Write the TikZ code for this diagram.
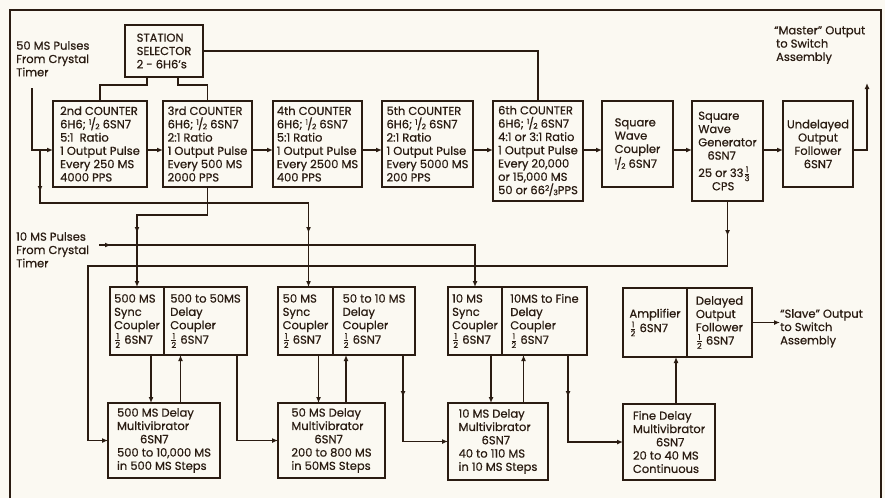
\documentclass[tikz,border=0pt]{standalone}
\usepackage{amsmath}
\usepackage{fontspec}
\setmainfont{Poppins}[FakeBold=0.6]
\usepackage{xcolor}
\usetikzlibrary{arrows.meta, positioning, calc, decorations.markings}
\definecolor{INK}{HTML}{2A1C12}
\definecolor{PAPER}{HTML}{FBF9F2}
\newcommand{\slfrac}[2]{\raisebox{.55ex}{\fontsize{7.5}{7.5}\selectfont#1}\kern-.06em/\kern-.06em\raisebox{-.15ex}{\fontsize{7.5}{7.5}\selectfont#2}}
\newcommand{\vfrac}[2]{$\frac{\text{#1}}{\text{#2}}$}
\tikzset{
  blk/.style={
    rectangle, draw=INK, line width=1.8pt, fill=PAPER,
    inner sep=2pt, outer sep=0pt, anchor=north west,
    align=left, text=INK, font=\fontsize{11.5}{13.3}\selectfont},
  lbl/.style={align=left, text=INK, inner sep=0pt, anchor=north west,
    font=\fontsize{11.5}{13.3}\selectfont},
  wire/.style={line width=1.5pt, draw=INK},
  arr/.style={wire, -{Latex[length=6pt,width=5pt]}},
  midarr/.style={postaction={decorate, decoration={markings,
    mark=at position #1 with {\arrow{Latex[length=6pt,width=5pt]}}}}},
}

\begin{document}
\begin{tikzpicture}[x=1pt, y=-1pt]

  \fill[PAPER, use as bounding box] (0,0) rectangle (885,498);
  \draw[INK, line width=2.5pt] (10,498) -- (10,10) -- (881,10) -- (881,498);

  \node[blk, minimum width=78pt, minimum height=52pt] (sel) at (125,25)
    {STATION\\SELECTOR\\2 - 6H6's};

  \node[blk, minimum width=94pt, minimum height=86pt] (c2) at (53,101)
    {2nd COUNTER\\6H6; \slfrac12 6SN7\\5:1 \ Ratio\\1 Output Pulse\\Every 250 MS\\4000 PPS};
  \node[blk, minimum width=89pt, minimum height=86pt, right=16pt of c2.north east, anchor=north west] (c3)
    {3rd COUNTER\\6H6; \slfrac12 6SN7\\2:1 Ratio\\1 Output Pulse\\Every 500 MS\\2000 PPS};
  \node[blk, minimum width=89pt, minimum height=86pt, right=21pt of c3.north east, anchor=north west] (c4)
    {4th COUNTER\\6H6; \slfrac12 6SN7\\5:1 Ratio\\1 Output Pulse\\Every 2500 MS\\400 PPS};
  \node[blk, minimum width=91pt, minimum height=86pt, right=20pt of c4.north east, anchor=north west] (c5)
    {5th COUNTER\\6H6; \slfrac12 6SN7\\2:1 Ratio\\1 Output Pulse\\Every 5000 MS\\200 PPS};
  \node[blk, minimum width=90pt, minimum height=100pt, right=20pt of c5.north east, anchor=north west] (c6)
    {6th COUNTER\\6H6; \slfrac12 6SN7\\4:1 or 3:1 Ratio\\1 Output Pulse\\Every 20,000\\or 15,000 MS\\50 or 66\slfrac23PPS};
  \node[blk, minimum width=71pt, minimum height=86pt, right=19pt of c6.north east, anchor=north west] (swc)
    {Square\\Wave\\Coupler\\\slfrac12 6SN7};
  \node[blk, minimum width=71pt, minimum height=100pt, right=19pt of swc.north east, anchor=north west] (swg)
    {Square\\Wave\\Generator\\\hspace{.8em}6SN7\\[4pt]25 or 33\vfrac13\\\hspace{1.2em}CPS};
  \node[blk, minimum width=70pt, minimum height=86pt, align=center, right=20pt of swg.north east, anchor=north west] (uof)
    {Undelayed\\Output\\Follower\\6SN7};

  \node[lbl] (t50) at (16,41) {50 MS Pulses\\From Crystal\\Timer};
  \node[lbl] (tmas) at (774,26) {``Master'' Output\\\,to Switch\\\,Assembly};
  \node[lbl] (t10) at (16,232) {10 MS Pulses\\From Crystal\\Timer};

  \node[blk, minimum width=54pt, minimum height=68pt] (sy1) at (110,287)
    {500 MS\\Sync\\Coupler\\\vfrac12 6SN7};
  \node[blk, minimum width=83pt, minimum height=68pt, right=0pt of sy1.north east, anchor=north west] (dc1)
    {500 to 50MS\\Delay\\Coupler\\\vfrac12 6SN7};
  \node[blk, minimum width=55pt, minimum height=68pt] (sy2) at (278,287)
    {50 MS\\Sync\\Coupler\\\vfrac12 6SN7};
  \node[blk, minimum width=82pt, minimum height=68pt, right=0pt of sy2.north east, anchor=north west] (dc2)
    {50 to 10 MS\\Delay\\Coupler\\\vfrac12 6SN7};
  \node[blk, minimum width=54pt, minimum height=68pt] (sy3) at (448,287)
    {10 MS\\Sync\\Coupler\\\vfrac12 6SN7};
  \node[blk, minimum width=85pt, minimum height=68pt, right=0pt of sy3.north east, anchor=north west] (dc3)
    {10MS to Fine\\Delay\\Coupler\\\vfrac12 6SN7};
  \node[blk, minimum width=64pt, minimum height=69pt] (amp) at (623,288)
    {Amplifier\\\vfrac12 6SN7};
  \node[blk, minimum width=65pt, minimum height=69pt, right=0pt of amp.north east, anchor=north west] (dof)
    {Delayed\\Output\\Follower\\\vfrac12 6SN7};
  \node[lbl] (tslv) at (780,309) {``Slave'' Output\\to Switch\\Assembly};

  \node[blk, minimum width=112pt, minimum height=75pt] (mv1) at (108,403)
    {500 MS Delay\\Multivibrator\\\hspace{2em}6SN7\\500 to 10,000 MS\\in 500 MS Steps};
  \node[blk, minimum width=107pt, minimum height=75pt] (mv2) at (278,403)
    {50 MS Delay\\Multivibrator\\\hspace{2em}6SN7\\200 to 800 MS\\in 50MS Steps};
  \node[blk, minimum width=100pt, minimum height=77pt] (mv3) at (448,403)
    {10 MS Delay\\Multivibrator\\\hspace{2em}6SN7\\40 to 110 MS\\in 10 MS Steps};
  \node[blk, minimum width=92pt, minimum height=76pt] (mv4) at (623,404)
    {Fine Delay\\Multivibrator\\\hspace{2em}6SN7\\20 to 40 MS\\Continuous};

  \coordinate (row) at (0,150);
  \coordinate (mout) at (867,83);
  \coordinate (in50) at (32,88);
  \coordinate (br50) at (40,150);
  \coordinate (in10) at (99,245);

  \foreach \a/\b in {c2/c3, c3/c4, c4/c5, c5/c6, c6/swc, swc/swg, swg/uof}
    \draw[arr] (\a.east |- row) -- (\b.west |- row);
  \draw[arr] (uof.east |- row) -| (mout);

  \draw[wire] (sel.east) -| (c6.north);
  \draw[wire] ([xshift=-17pt]sel.south) -- ++(0,8) -| (c2.north);
  \draw[wire] ([xshift=14pt]sel.south) -- ++(0,8) -| (c3.north);

  \draw[arr] (in50) |- (c2.west |- row);
  \draw[arr, midarr=42pt, midarr=-54pt] (br50) -- ++(0,53) -| ([xshift=3pt]sy2.north);
  \draw[arr, midarr=-54pt] (c3.south) -- ++(0,28) -| (sy1.north);
  \draw[arr, midarr=12pt] (in10) -| (sy3.north);
  \draw[arr, midarr=35pt] (swg.south) -- ++(0,65) -| ([xshift=-20pt]mv1.west) -- (mv1.west);

  \draw[arr] ([xshift=14pt]sy1.south) -- ([xshift=14pt]sy1.south |- mv1.north);
  \draw[arr] ([xshift=-25pt]dc1.south |- mv1.north) -- ([xshift=-25pt]dc1.south);
  \draw[arr] ([xshift=-10pt]dc1.south east) |- (mv2.west);
  \draw[arr] ([xshift=13pt]sy2.south) -- ([xshift=13pt]sy2.south |- mv2.north);
  \draw[arr] ([xshift=-28pt]dc2.south |- mv2.north) -- ([xshift=-28pt]dc2.south);
  \draw[arr, midarr=42pt] ([xshift=-12pt]dc2.south east) |- (mv3.west);
  \draw[arr] ([xshift=16pt]sy3.south) -- ([xshift=16pt]sy3.south |- mv3.north);
  \draw[arr] ([xshift=-21pt]dc3.south |- mv3.north) -- ([xshift=-21pt]dc3.south);
  \draw[arr, midarr=42pt] ([xshift=-19pt]dc3.south east) |- (mv4.west);
  \draw[arr] ([xshift=7pt]mv4.north) -- ([xshift=7pt]mv4.north |- amp.south);
  \draw[arr] (dof.east) -- (dof.east -| tslv.west);

\end{tikzpicture}
\end{document}
